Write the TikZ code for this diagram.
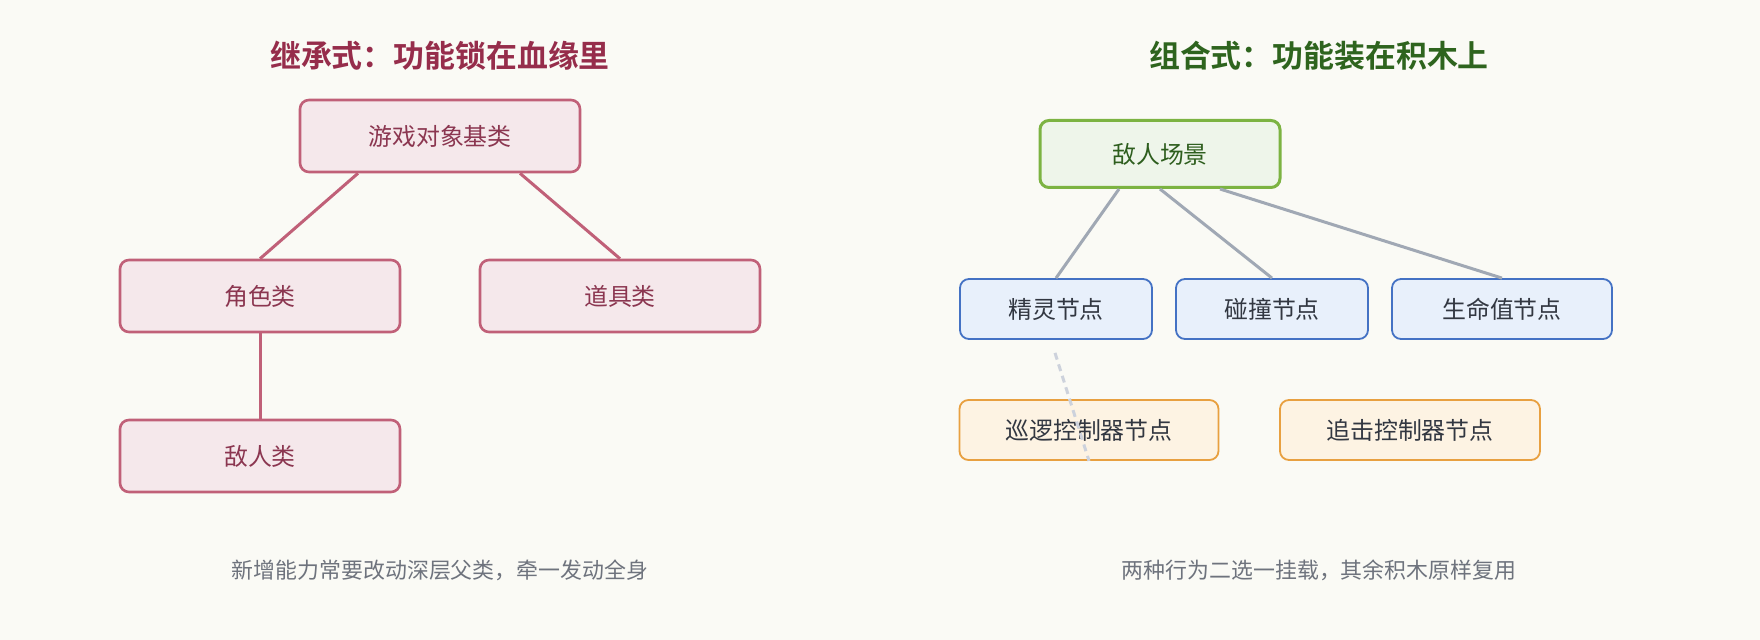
\documentclass[tikz,border=0pt]{standalone}
\usepackage{fontspec}
\setmainfont{Noto Sans CJK SC}[BoldFont={Noto Sans CJK SC Bold}]
\definecolor{bg}{HTML}{FAFAF5}
\definecolor{istroke}{HTML}{C06078}
\definecolor{ifill}{HTML}{F5E8EB}
\definecolor{itext}{HTML}{8B3650}
\definecolor{ititle}{HTML}{962D4B}
\definecolor{gtitle}{HTML}{2E641E}
\definecolor{gstroke}{HTML}{7CB342}
\definecolor{gfill}{HTML}{EEF5EA}
\definecolor{gtext}{HTML}{2E5E1E}
\definecolor{bstroke}{HTML}{4472C4}
\definecolor{bfill}{HTML}{E8F0FB}
\definecolor{ostroke}{HTML}{E8A040}
\definecolor{ofill}{HTML}{FDF3E3}
\definecolor{dtext}{HTML}{323741}
\definecolor{cl}{HTML}{A0A8B4}
\definecolor{dl}{HTML}{CDD2DC}
\definecolor{nt}{HTML}{6E737D}
\begin{document}
\begin{tikzpicture}[x=1bp,y=-1bp,
 box/.style={draw,rounded corners=9bp,line width=2.6bp,font=\fontsize{24}{28}\selectfont,minimum height=#1,inner sep=0},
 inh/.style={box=72bp,draw=istroke,fill=ifill,text=itext,minimum width=280bp},
 comp/.style={box=60bp,line width=1.8bp,draw=bstroke,fill=bfill,text=dtext},
 beh/.style={box=60bp,line width=1.8bp,draw=ostroke,fill=ofill,text=dtext},
 iline/.style={line width=3bp,draw=istroke},
 cline/.style={line width=3bp,draw=cl},
 ttl/.style={font=\fontsize{31}{34}\selectfont\bfseries},
 note/.style={font=\fontsize{22}{26}\selectfont,text=nt}]
\fill[bg] (0,0) rectangle (1760,640);
\useasboundingbox (0,0) rectangle (1760,640);
\node[ttl,text=ititle] (t1) at (440,56) {继承式：功能锁在血缘里};
\node[ttl,text=gtitle] (t2) at (1319,56) {组合式：功能装在积木上};
\node[inh] (base) at (440,136) {游戏对象基类};
\node[inh] (role) at (260,296) {角色类};
\node[inh] (prop) at (620,296) {道具类};
\node[inh] (enemy) at (260,456) {敌人类};
\draw[iline] (base.south) ++(-82,0) -- (role.north);
\draw[iline] (base.south) ++(80,0) -- (prop.north);
\draw[iline] (role) -- (enemy);
\node[note] (n1) at (440,570) {新增能力常要改动深层父类，牵一发动全身};
\node[box=67bp,minimum width=240bp,line width=3bp,draw=gstroke,fill=gfill,text=gtext] (scene) at (1160,154) {敌人场景};
\node[comp,minimum width=192bp] (sprite) at (1056,309) {精灵节点};
\node[comp,minimum width=192bp] (coll) at (1272,309) {碰撞节点};
\node[comp,minimum width=220bp] (hp) at (1502,309) {生命值节点};
\node[beh,minimum width=259bp] (patrol) at (1089,430) {巡逻控制器节点};
\node[beh,minimum width=260bp] (chase) at (1410,430) {追击控制器节点};
\draw[cline] (scene.south) ++(-41,0) -- (sprite.north);
\draw[cline] (scene.south) -- (coll.north);
\draw[cline] (scene.south) ++(60,0) -- (hp.north);
\draw[line width=3bp,draw=dl,dash pattern=on 7bp off 5bp] (sprite.south) ++(-1,13) -- (patrol.south);
\node[note] (n2) at (1319,570) {两种行为二选一挂载，其余积木原样复用};
\end{tikzpicture}
\end{document}
